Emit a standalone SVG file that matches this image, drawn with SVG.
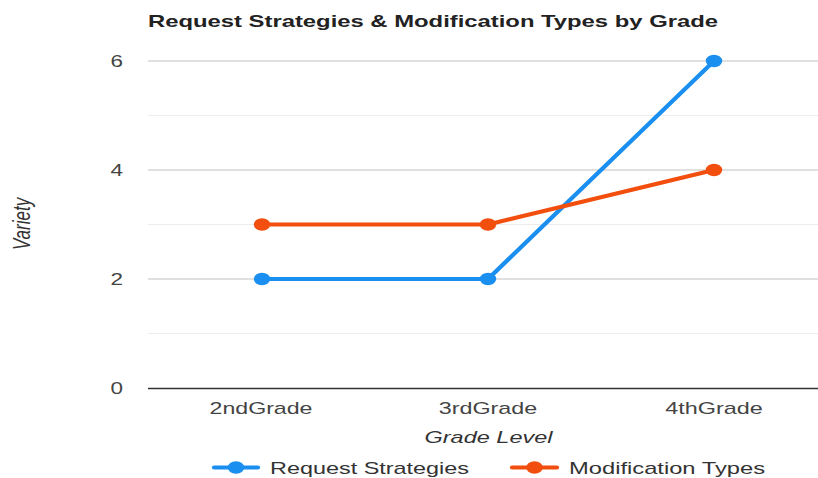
<svg xmlns="http://www.w3.org/2000/svg" width="818" height="478" viewBox="0 0 818 478">
  <style>
    text { font-family: "Liberation Sans", Arial, sans-serif; }
    .title { font-size: 17px; font-weight: bold; fill: #222; }
    .tick { font-size: 17px; fill: #444; }
    .axis-title { font-size: 17px; font-style: italic; fill: #333; }
    .legend { font-size: 17px; fill: #333; }
    .grid-major { stroke: #d6d6d6; stroke-width: 1.5; }
    .grid-minor { stroke: #ececec; stroke-width: 1; }
    .baseline { stroke: #333; stroke-width: 1.5; }
    .series { fill: none; stroke-width: 4.2; stroke-linejoin: round; stroke-linecap: round; }
    .req { stroke: #1a8ff0; }
    .mod { stroke: #f24e0e; }
    .req-dot { fill: #1a8ff0; }
    .mod-dot { fill: #f24e0e; }
  </style>
  <rect width="818" height="478" fill="#fff"/>

  <text class="title" x="148" y="27" textLength="570" lengthAdjust="spacingAndGlyphs">Request Strategies &amp; Modification Types by Grade</text>

  <!-- gridlines -->
  <g id="grid">
    <line class="grid-minor" x1="148" y1="115.5" x2="818" y2="115.5"/>
    <line class="grid-minor" x1="148" y1="224.5" x2="818" y2="224.5"/>
    <line class="grid-minor" x1="148" y1="333.5" x2="818" y2="333.5"/>
    <line class="grid-major" x1="148" y1="61" x2="818" y2="61"/>
    <line class="grid-major" x1="148" y1="170" x2="818" y2="170"/>
    <line class="grid-major" x1="148" y1="279" x2="818" y2="279"/>
    <line class="baseline" x1="148" y1="388.5" x2="818" y2="388.5"/>
  </g>

  <!-- y axis -->
  <g id="y-axis" class="tick" text-anchor="end">
    <text x="123" y="67" textLength="12.5" lengthAdjust="spacingAndGlyphs">6</text>
    <text x="123" y="176" textLength="12.5" lengthAdjust="spacingAndGlyphs">4</text>
    <text x="123" y="285" textLength="12.5" lengthAdjust="spacingAndGlyphs">2</text>
    <text x="123" y="394" textLength="12.5" lengthAdjust="spacingAndGlyphs">0</text>
  </g>
  <text class="axis-title" transform="translate(30,224) scale(1.37,1) rotate(-90)" text-anchor="middle">Variety</text>

  <!-- x axis -->
  <g id="x-axis" class="tick" text-anchor="middle">
    <text x="261" y="414" textLength="103" lengthAdjust="spacingAndGlyphs">2ndGrade</text>
    <text x="488" y="414" textLength="98.5" lengthAdjust="spacingAndGlyphs">3rdGrade</text>
    <text x="714" y="414" textLength="97.5" lengthAdjust="spacingAndGlyphs">4thGrade</text>
  </g>
  <text class="axis-title" x="488.5" y="443" text-anchor="middle" textLength="128" lengthAdjust="spacingAndGlyphs">Grade Level</text>

  <!-- series -->
  <g id="connectors">
    <polyline class="series req" points="262,279 488,279 714,61"/>
    <polyline class="series mod" points="262,224.5 488,224.5 714,170"/>
  </g>
  <g id="request-points" class="req-dot">
    <ellipse cx="262" cy="279" rx="8.2" ry="6.2"/>
    <ellipse cx="488" cy="279" rx="8.2" ry="6.2"/>
    <ellipse cx="714" cy="61" rx="8.2" ry="6.2"/>
  </g>
  <g id="modification-points" class="mod-dot">
    <ellipse cx="262" cy="224.5" rx="8.2" ry="6.2"/>
    <ellipse cx="488" cy="224.5" rx="8.2" ry="6.2"/>
    <ellipse cx="714" cy="170" rx="8.2" ry="6.2"/>
  </g>

  <!-- legend -->
  <g id="legend-request">
    <line class="series req" x1="214" y1="467.5" x2="258" y2="467.5"/>
    <ellipse class="req-dot" cx="236" cy="467.5" rx="8.2" ry="6.2"/>
    <text class="legend" x="270" y="474" textLength="199" lengthAdjust="spacingAndGlyphs">Request Strategies</text>
  </g>
  <g id="legend-modification">
    <line class="series mod" x1="512" y1="467.5" x2="557" y2="467.5"/>
    <ellipse class="mod-dot" cx="534.5" cy="467.5" rx="8.2" ry="6.2"/>
    <text class="legend" x="569" y="474" textLength="196" lengthAdjust="spacingAndGlyphs">Modification Types</text>
  </g>
</svg>
